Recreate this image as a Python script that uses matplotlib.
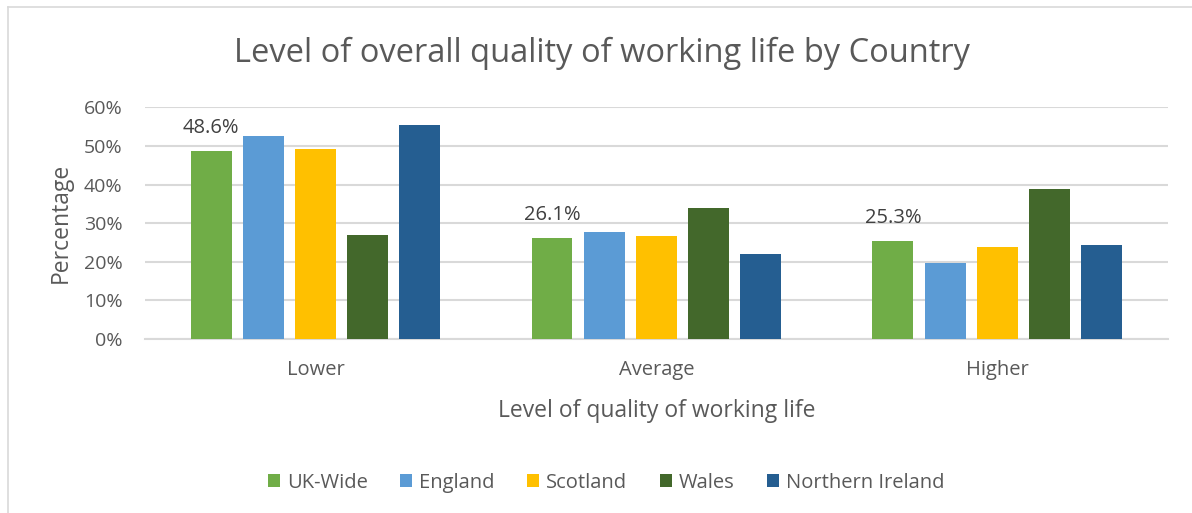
import numpy as np
import matplotlib
matplotlib.use("Agg")
import matplotlib.pyplot as plt
from matplotlib.lines import Line2D

categories = ["Lower", "Average", "Higher"]
series = ["UK-Wide", "England", "Scotland", "Wales", "Northern Ireland"]
uk_wide = [48.6, 26.1, 25.3]
england = [52.5, 27.6, 19.8]
scotland = [49.2, 26.8, 23.9]
wales = [27.0, 33.8, 38.9]
northern_ireland = [55.3, 22.0, 24.3]
colors = ["#70AD47", "#5B9BD5", "#FFC000", "#43682B", "#255E91"]

values = [uk_wide, england, scotland, wales, northern_ireland]

plt.rcParams['font.family'] = ['Open Sans', 'DejaVu Sans']

fig = plt.figure(figsize=(11.92, 5.13), dpi=100)
ax = fig.add_axes([0.1216, 0.339, 0.858, 0.452])

x = np.arange(len(categories))
step = 0.153
width = 0.12
for i, (name, vals) in enumerate(zip(series, values)):
    pos = x + (i - 2) * step
    ax.bar(pos, [v / 100 for v in vals], width, color=colors[i], label=name,
           zorder=3)

# data labels for UK-Wide only
for xi, v in zip(x, uk_wide):
    ax.text(xi - 2 * step, v / 100 + 0.035, f"{v:.1f}%", ha="center",
            va="bottom", fontsize=14.5, color="#404040")

ax.set_xlim(-0.5, 2.5)
ax.set_ylim(0, 0.6)
ax.set_yticks(np.arange(0, 0.61, 0.1))
ax.set_yticklabels([f"{int(round(t*100))}%" for t in np.arange(0, 0.61, 0.1)])
ax.set_xticks(x)
ax.set_xticklabels(categories)
ax.tick_params(axis="both", length=0, labelsize=14, labelcolor="#595959")
ax.tick_params(axis="x", labelsize=14.5, pad=15)
ax.tick_params(axis="y", pad=16)
ax.grid(axis="y", color="#D9D9D9", linewidth=1.5, zorder=0)
for s in ["top", "right", "left"]:
    ax.spines[s].set_visible(False)
ax.spines["bottom"].set_color("#D9D9D9")
ax.spines["bottom"].set_linewidth(1.5)

ax.set_ylabel("Percentage", fontsize=16.5, color="#595959", labelpad=8)
ax.set_xlabel("Level of quality of working life", fontsize=16.5,
              color="#595959", labelpad=14)

fig.text(0.505, 0.895, "Level of overall quality of working life by Country",
         ha="center", va="center", fontsize=23.5, color="#595959")

ax.legend(loc="center", bbox_to_anchor=(0.451, -0.62), ncol=5,
          frameon=False, fontsize=14.5, handlelength=0.6, handleheight=0.6,
          handletextpad=0.35, columnspacing=1.6, labelcolor="#595959")

# chart frame (left and top edges only visible)
fig.add_artist(Line2D([8 / 1192, 8 / 1192], [0, 1 - 7 / 513],
                      transform=fig.transFigure, color="#D9D9D9", linewidth=1.2))
fig.add_artist(Line2D([8 / 1192, 1], [1 - 7 / 513, 1 - 7 / 513],
                      transform=fig.transFigure, color="#D9D9D9", linewidth=1.2))

fig.savefig("out.png", dpi=100)
